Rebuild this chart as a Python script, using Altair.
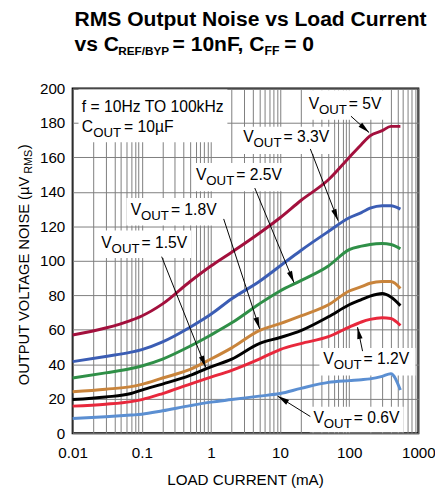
import math
import altair as alt
import pandas as pd

W, H = 353, 352
FONT = "Liberation Sans"

# ---------------- data ----------------
currents = [0.01, 0.03, 0.07, 0.1, 0.2, 0.5, 1, 2, 5, 10, 20, 50, 100, 150, 200, 300, 400, 550]
noise_5v0 = [57, 61, 65.5, 68, 75, 88, 97, 105, 116, 125, 135, 147, 160, 167.5, 172.5, 175.5, 178, 178]
noise_3v3 = [41.5, 44.5, 47, 48.5, 53, 61.5, 69, 78, 88, 97, 106, 117, 125, 128, 130.5, 132, 132, 130]
noise_2v5 = [32, 35, 37.5, 39, 43, 50.5, 57, 64, 75, 82.5, 88.5, 97, 106.5, 108.5, 109.5, 110, 109.5, 107]
noise_1v8 = [24, 25.5, 27, 28.3, 32, 37, 43, 49.5, 59.5, 63.5, 68, 74.5, 82.5, 85, 87, 88, 88, 84]
noise_1v5 = [19.5, 21, 23, 25, 28.5, 33.5, 38.5, 43, 52, 55.5, 59.5, 67.5, 74.5, 77.5, 79.5, 81, 79, 74]
noise_1v2 = [15.7, 16.8, 18.3, 19.5, 23, 28.5, 32.5, 36.5, 43, 48.5, 52, 56, 61.5, 64.5, 66, 67, 66.5, 62.5]
noise_0v6 = [8.5, 9.5, 10.5, 11, 13, 16, 18, 19.5, 21.5, 23, 26, 29.5, 30.5, 31, 31.5, 33, 34.5, 25]

series_names = ["5V", "3.3V", "2.5V", "1.8V", "1.5V", "1.2V", "0.6V"]
series_colors = ["#a3103d", "#3b5db4", "#2f8f47", "#c9843b", "#000000", "#e8283c", "#5b8fd2"]
series_values = [noise_5v0, noise_3v3, noise_2v5, noise_1v8, noise_1v5, noise_1v2, noise_0v6]

# annotation labels (data coordinates)
label_text = ["= 5V", "= 3.3V", "= 2.5V", "= 1.8V", "= 1.5V", "= 1.2V", "= 0.6V"]
label_x = [25.9, 2.94, 0.609, 0.0692, 0.026, 42.3, 30.5]
label_y = [190.9, 171.6, 149.8, 129.5, 110.5, 42.8, 8.7]
box_x1 = [22.0, 2.56, 0.535, 0.060, 0.0226, 37.1, 26.8, 0.01216]
box_x2 = [330, 60.5, 12.2, 1.42, 0.518, 907, 613, 1.73]
box_y1 = [181.8, 161.9, 140.3, 120.5, 101.7, 33.5, 0.6, 168.75]
box_y2 = [198.9, 177.8, 156.8, 136.4, 117.6, 49.4, 15.3, 199.4]
arrow_x0 = [106, 27.4, 4.31, 1.53, 0.194, 156, 27.4]
arrow_y0 = [183.9, 164.9, 142.2, 124.3, 102.4, 47.6, 9.66]
arrow_x1 = [194, 69, 15.9, 5.07, 0.843, 132, 9.22]
arrow_y1 = [174.4, 123.3, 87.3, 60.5, 38.1, 61.5, 21.5]

info_line1 = "f = 10Hz TO 100kHz"
info_x = [0.0136]
info_y = [189.2, 177.3]

x_ticks = [0.01, 0.1, 1, 10, 100, 1000]
y_ticks = list(range(0, 201, 20))

# ---------------- tables ----------------
rows = []
for name, vals in zip(series_names, series_values):
    for c, v in zip(currents, vals):
        rows.append({"series": name, "current": c, "noise": v})
df = pd.DataFrame(rows)

df_lab = pd.DataFrame({"lx": label_x, "ly": label_y, "tail": label_text,
                       "head": ["V"] * len(label_x), "sub": ["OUT"] * len(label_x)})
df_box = pd.DataFrame({"bx1": box_x1, "bx2": box_x2, "by1": box_y1, "by2": box_y2})


def pdx(a, b):
    return W / 5 * (math.log10(b) - math.log10(a))


def pdy(a, b):
    return -H / 200 * (b - a)


angles = [math.degrees(math.atan2(pdx(a, b), -pdy(c, d))) % 360
          for a, b, c, d in zip(arrow_x0, arrow_x1, arrow_y0, arrow_y1)]
df_arr = pd.DataFrame({"ax0": arrow_x0, "ay0": arrow_y0, "ax1": arrow_x1, "ay1": arrow_y1,
                       "ang": angles})
df_info = pd.DataFrame({"ix": [info_x[0], info_x[0]], "iy": info_y,
                        "t1": [info_line1, "C"], "t2": ["", "OUT"], "t3": ["", "= 10µF"]})

# ---------------- scales / axes ----------------
grid_values = [m * 10 ** e for e in range(-2, 3) for m in range(1, 10)] + [1000]
x_scale = alt.Scale(type="log", domain=[0.01, 1000])
y_scale = alt.Scale(domain=[0, 200])
x_axis = alt.Axis(values=grid_values, title=None, ticks=False, domain=False,
                  labelExpr="indexof(%s, datum.value) >= 0 ? format(datum.value, '~g') : ''" % str(x_ticks),
                  labelPadding=13, labelFontSize=15.5, labelFont=FONT, labelColor="black",
                  labelOverlap=False, labelFlush=False, labelBound=False,
                  grid=True, gridColor="#7d7d7d", gridWidth=1, gridOpacity=1)
y_axis = alt.Axis(values=y_ticks, title=None, ticks=False, domain=False,
                  labelPadding=8, labelFontSize=15.5, labelFont=FONT, labelColor="black",
                  labelOverlap=False, labelFlush=False,
                  grid=True, gridColor="#7d7d7d", gridWidth=1, gridOpacity=1)


def X(f):
    return alt.X(f, type="quantitative", scale=x_scale, axis=x_axis)


def Y(f):
    return alt.Y(f, type="quantitative", scale=y_scale, axis=y_axis)


boxes = alt.Chart(df_box).mark_rect(color="white").encode(
    x=X("bx1"), x2="bx2", y=Y("by1"), y2="by2")

lines = alt.Chart(df).mark_line(strokeWidth=3, interpolate="monotone").encode(
    x=X("current"), y=Y("noise"),
    color=alt.Color("series:N", scale=alt.Scale(domain=series_names, range=series_colors), legend=None),
    order=alt.Order("current:Q"))

rules = alt.Chart(df_arr).mark_rule(color="black", strokeWidth=1).encode(
    x=X("ax0"), x2="ax1", y=Y("ay0"), y2="ay1")

heads = alt.Chart(df_arr).mark_point(shape="M0,0L-0.55,2.4L0.55,2.4Z", filled=True, size=100,
                                     color="black", opacity=1, strokeWidth=0).encode(
    x=X("ax1"), y=Y("ay1"), angle=alt.Angle("ang:Q", scale=None))

txt_kw = dict(align="left", baseline="middle", font=FONT, color="black")
t_head = alt.Chart(df_lab).mark_text(fontSize=16, **txt_kw).encode(x=X("lx"), y=Y("ly"), text="head:N")
t_sub = alt.Chart(df_lab).mark_text(fontSize=13.5, dx=10.5, dy=6, **txt_kw).encode(x=X("lx"), y=Y("ly"), text="sub:N")
t_tail = alt.Chart(df_lab).mark_text(fontSize=16, dx=41, **txt_kw).encode(x=X("lx"), y=Y("ly"), text="tail:N")

i_1 = alt.Chart(df_info).mark_text(fontSize=16, **txt_kw).encode(x=X("ix"), y=Y("iy"), text="t1:N")
i_2 = alt.Chart(df_info).mark_text(fontSize=13.5, dx=11.5, dy=6, **txt_kw).encode(x=X("ix"), y=Y("iy"), text="t2:N")
i_3 = alt.Chart(df_info).mark_text(fontSize=16, dx=43, **txt_kw).encode(x=X("ix"), y=Y("iy"), text="t3:N")


def free_text(s, x, y, size, bold=False, angle=0, align="left", baseline="alphabetic"):
    kw = dict(x=x, y=y, fontSize=size, font=FONT, color="black", align=align, baseline=baseline,
              fontWeight="bold" if bold else "normal")
    if angle:
        kw["angle"] = angle
    return alt.Chart(pd.DataFrame({"t": [s]})).mark_text(**kw).encode(text="t:N")


title_parts = [
    free_text("RMS Output Noise vs Load Current", 2, -64, 21.5, bold=True),
    free_text("vs C", 2, -38, 21.5, bold=True),
    free_text("REF/BYP", 46.5, -34, 12, bold=True),
    free_text("= 10nF, C", 102, -38, 21.5, bold=True),
    free_text("FF", 196, -34, 12.5, bold=True),
    free_text("= 0", 216, -38, 21.5, bold=True),
]
axis_titles = [
    free_text("LOAD CURRENT (mA)", W / 2, 405, 15.5, align="center"),
    free_text("OUTPUT VOLTAGE NOISE (µV", -50, 303, 15, angle=270, baseline="middle"),
    free_text("RMS", -45, 87, 11, angle=270, baseline="middle"),
    free_text(")", -50, 62, 15, angle=270, baseline="middle"),
]

chart = alt.layer(boxes, lines, rules, heads, t_head, t_sub, t_tail, i_1, i_2, i_3,
                  *title_parts, *axis_titles).properties(
    width=W, height=H,
    autosize=alt.AutoSizeParams(type="none"),
    padding={"left": 66, "top": 77, "right": 17, "bottom": 59},
).configure_view(stroke="black", strokeWidth=2)

chart.save("out.html", embed_options={"renderer": "svg", "actions": False})
